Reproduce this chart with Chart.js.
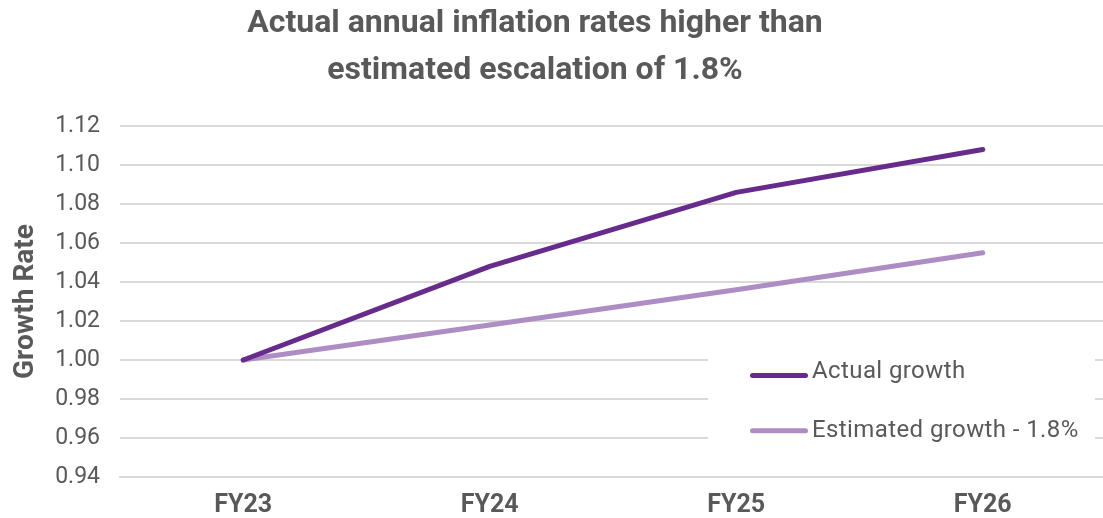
<!DOCTYPE html>
<html>
<head>
<meta charset="utf-8">
<script src="https://cdn.jsdelivr.net/npm/chart.js@4.4.1/dist/chart.umd.min.js"></script>
<style>
  html, body { margin: 0; padding: 0; background: #ffffff; overflow: hidden; }
  #wrap { position: absolute; left: 0; top: 0; width: 1103px; height: 518px; overflow: hidden; background: #fff; }
  #c { position: absolute; left: -36px; top: 0; }
</style>
</head>
<body>
<div id="wrap"><canvas id="c" width="1146" height="518"></canvas></div>
<script>
const categories = ['FY23', 'FY24', 'FY25', 'FY26'];
const actualGrowth = [1.000, 1.048, 1.086, 1.108];
const estimatedGrowth = [1.000, 1.018, 1.036, 1.055];
const seriesLabels = ['Actual growth', 'Estimated growth - 1.8%'];
const titleLines = ['Actual annual inflation rates higher than', 'estimated escalation of 1.8%'];
const yAxisTitle = 'Growth Rate';
const yMin = 0.94, yMax = 1.12, yStep = 0.02;

const OFF = 36; // canvas is shifted left by this many px
const textColor = '#595959';
const colActual = '#672B8B';
const colEst = '#AE8CC4';

const insideLegend = {
  id: 'insideLegend',
  afterDatasetsDraw(chart) {
    const ctx = chart.ctx;
    ctx.save();
    ctx.fillStyle = '#ffffff';
    ctx.fillRect(708 + OFF, 340, 387, 118);
    const rows = [
      { ds: chart.data.datasets[0], lineY: 375.5, textY: 377.7 },
      { ds: chart.data.datasets[1], lineY: 430.7, textY: 436.7 }
    ];
    rows.forEach(r => {
      ctx.strokeStyle = r.ds.borderColor;
      ctx.lineWidth = 5;
      ctx.lineCap = 'round';
      ctx.beginPath();
      ctx.moveTo(752.5 + OFF, r.lineY);
      ctx.lineTo(805.5 + OFF, r.lineY);
      ctx.stroke();
      ctx.fillStyle = textColor;
      ctx.font = '24px Roboto';
      if ('letterSpacing' in ctx) ctx.letterSpacing = '0.4px';
      ctx.textBaseline = 'alphabetic';
      ctx.textAlign = 'left';
      ctx.fillText(r.ds.label, 812 + OFF, r.textY);
    });
    ctx.restore();
  }
};

new Chart(document.getElementById('c'), {
  type: 'line',
  data: {
    labels: categories,
    datasets: [
      {
        label: seriesLabels[0],
        data: actualGrowth,
        borderColor: colActual,
        backgroundColor: colActual,
        borderWidth: 5,
        borderCapStyle: 'round',
        borderJoinStyle: 'round',
        pointRadius: 0,
        tension: 0
      },
      {
        label: seriesLabels[1],
        data: estimatedGrowth,
        borderColor: colEst,
        backgroundColor: colEst,
        borderWidth: 5,
        borderCapStyle: 'round',
        borderJoinStyle: 'round',
        pointRadius: 0,
        tension: 0
      }
    ]
  },
  options: {
    responsive: false,
    animation: false,
    devicePixelRatio: 1,
    layout: { padding: { left: 0, right: 4, top: 0, bottom: 0 } },
    plugins: {
      legend: { display: false },
      tooltip: { enabled: false },
      title: {
        display: true,
        text: titleLines,
        color: textColor,
        font: { family: 'Roboto', size: 32, weight: 'bold', lineHeight: 1.47 },
        padding: { top: 0, bottom: 32 }
      }
    },
    scales: {
      x: {
        offset: true,
        grid: { display: false, drawTicks: false },
        border: { display: true, color: '#d9d9d9', width: 2 },
        ticks: {
          color: textColor,
          font: { family: 'Roboto', size: 25, weight: 'bold' },
          padding: 14,
          maxRotation: 0
        },
        afterFit(scale) { scale.height = 41; }
      },
      y: {
        min: yMin,
        max: yMax,
        grid: { color: '#d9d9d9', lineWidth: 2, drawTicks: false },
        border: { display: false },
        ticks: {
          stepSize: yStep,
          color: textColor,
          font: { family: 'Roboto', size: 23 },
          padding: 20,
          callback: (v) => Number(v).toFixed(2)
        },
        title: {
          display: true,
          text: yAxisTitle,
          color: textColor,
          font: { family: 'Roboto', size: 28, weight: 'bold' },
          padding: { top: 45, bottom: 0 }
        },
        afterFit(scale) { scale.width = 156; }
      }
    }
  },
  plugins: [insideLegend]
});
</script>
</body>
</html>
